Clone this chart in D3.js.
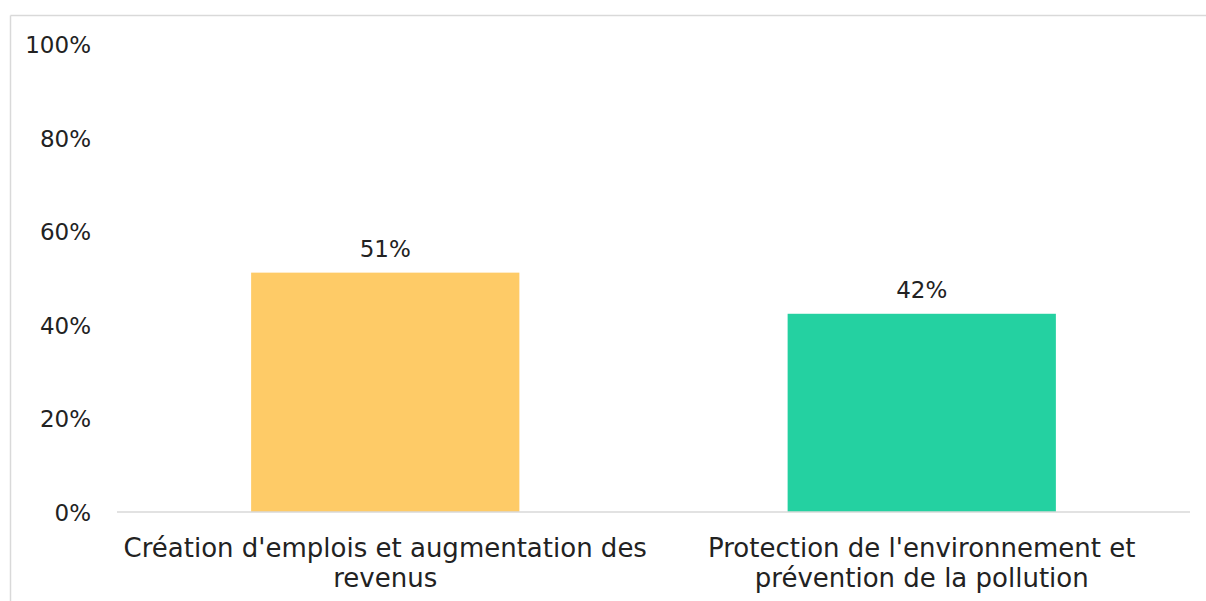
<!DOCTYPE html>
<html>
<head>
<meta charset="utf-8">
<script src="https://cdn.jsdelivr.net/npm/d3@7"></script>
<style>
  html, body { margin: 0; background: #fff; overflow: hidden; }
  svg { display: block; }
  text { font-family: "DejaVu Sans", sans-serif; fill: #222; }
</style>
</head>
<body>
<div id="chart"></div>
<script>
// chart data
const categories = ["Création d'emplois et augmentation des revenus", "Protection de l'environnement et prévention de la pollution"]
const values = [51.2, 42.4]
const barColors = ["#FECB67", "#24D1A1"]
const yTicks = [0, 20, 40, 60, 80, 100]
const labelLines = [
  ["Création d'emplois et augmentation des", "revenus"],
  ["Protection de l'environnement et", "prévention de la pollution"]
]

const width = 1206,
  height = 601,
  margin = { top: 44.5, bottom: 89, left: 117, right: 16 },
  numSize = 23,
  catSize = 26

const svg = d3.select("#chart")
  .append("svg")
  .attr("width", width)
  .attr("height", height)

// outer frame: only top and left edges are inside the picture
svg.append("line")
  .attr("x1", 10.5).attr("x2", width)
  .attr("y1", 15.5).attr("y2", 15.5)
  .attr("stroke", "#d9d9d9")
  .attr("stroke-width", 1.5)
svg.append("line")
  .attr("x1", 10.5).attr("x2", 10.5)
  .attr("y1", 15.5).attr("y2", height)
  .attr("stroke", "#d9d9d9")
  .attr("stroke-width", 1.5)

const xScale = d3.scaleBand()
  .domain(categories)
  .range([margin.left, width - margin.right])
  .paddingInner(0.5)
  .paddingOuter(0.25)

const yScale = d3.scaleLinear()
  .domain([0, 100])
  .range([height - margin.bottom, margin.top])

// y axis labels only
const yAxis = d3.axisLeft(yScale)
  .tickValues(yTicks)
  .tickSize(0)
  .tickPadding(0)
  .tickFormat(d => d + "%")

const yAxisGroup = svg.append("g")
  .attr("transform", `translate(${91}, 0)`)
  .call(yAxis)
yAxisGroup.select(".domain").remove()
yAxisGroup.selectAll("text")
  .attr("font-size", numSize)
  .attr("font-family", null)
  .attr("fill", "#222")
  .attr("dy", "0.36em")

// bars
svg.selectAll("rect.bar")
  .data(categories)
  .join("rect")
  .attr("class", "bar")
  .attr("x", d => xScale(d))
  .attr("width", xScale.bandwidth())
  .attr("y", (d, i) => yScale(values[i]))
  .attr("height", (d, i) => yScale(0) - yScale(values[i]))
  .attr("fill", (d, i) => barColors[i])

// baseline
svg.append("line")
  .attr("x1", margin.left)
  .attr("x2", width - margin.right)
  .attr("y1", yScale(0))
  .attr("y2", yScale(0))
  .attr("stroke", "#d9d9d9")
  .attr("stroke-width", 1.5)

// value labels
svg.selectAll("text.value")
  .data(categories)
  .join("text")
  .attr("class", "value")
  .attr("x", d => xScale(d) + xScale.bandwidth() / 2)
  .attr("y", (d, i) => yScale(values[i]) - 16)
  .attr("text-anchor", "middle")
  .attr("font-size", numSize)
  .text((d, i) => Math.round(values[i]) + "%")

// category labels, two lines each
const catGroups = svg.selectAll("g.cat")
  .data(categories)
  .join("g")
  .attr("class", "cat")
  .attr("transform", d => `translate(${xScale(d) + xScale.bandwidth() / 2}, ${yScale(0)})`)

catGroups.selectAll("text")
  .data((d, i) => labelLines[i])
  .join("text")
  .attr("text-anchor", "middle")
  .attr("font-size", catSize)
  .attr("y", (d, j) => 45 + j * 29.5)
  .text(d => d)
</script>
</body>
</html>
